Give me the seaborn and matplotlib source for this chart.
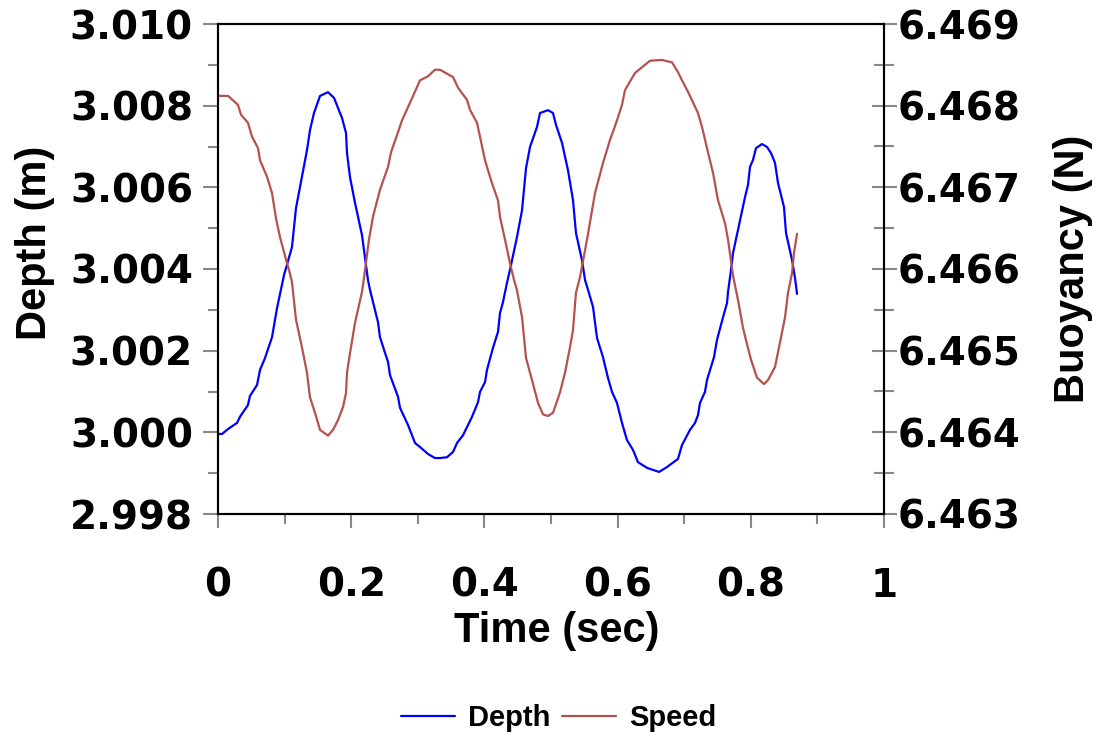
import matplotlib
matplotlib.use("Agg")
import matplotlib.pyplot as plt
import seaborn as sns
import pandas as pd
from matplotlib.ticker import MultipleLocator, FuncFormatter
from matplotlib.lines import Line2D

sns.set_style("white")
plt.rcParams['font.family'] = ['Liberation Sans', 'DejaVu Sans']
plt.rcParams['text.color'] = 'black'
plt.rcParams['axes.labelcolor'] = 'black'
plt.rcParams['xtick.labelcolor'] = 'black'
plt.rcParams['ytick.labelcolor'] = 'black'

# ---- data ----
depth_time = [0.0000, 0.0060, 0.0150, 0.0285, 0.0330, 0.0450, 0.0480, 0.0586, 0.0631, 0.0706,
              0.0811, 0.0886, 0.0991, 0.1111, 0.1171, 0.1336, 0.1381, 0.1441, 0.1532, 0.1652,
              0.1742, 0.1862, 0.1922, 0.1937, 0.1982, 0.2057, 0.2162, 0.2252, 0.2282, 0.2402,
              0.2432, 0.2553, 0.2583, 0.2703, 0.2733, 0.2853, 0.2958, 0.3033, 0.3153, 0.3258,
              0.3333, 0.3438, 0.3529, 0.3589, 0.3679, 0.3814, 0.3904, 0.3934, 0.4009, 0.4039,
              0.4129, 0.4204, 0.4234, 0.4279, 0.4339, 0.4384, 0.4489, 0.4565, 0.4625, 0.4685,
              0.4790, 0.4835, 0.4955, 0.5030, 0.5075, 0.5165, 0.5255, 0.5330, 0.5375, 0.5465,
              0.5511, 0.5556, 0.5631, 0.5691, 0.5781, 0.5856, 0.5916, 0.5991, 0.6066, 0.6141,
              0.6231, 0.6306, 0.6441, 0.6532, 0.6622, 0.6742, 0.6907, 0.6967, 0.7087, 0.7162,
              0.7207, 0.7237, 0.7312, 0.7342, 0.7447, 0.7492, 0.7583, 0.7643, 0.7658, 0.7703,
              0.7733, 0.7808, 0.7913, 0.7958, 0.7988, 0.8033, 0.8078, 0.8168, 0.8243, 0.8303,
              0.8363, 0.8408, 0.8498, 0.8529, 0.8619, 0.8664, 0.8694]
depth_m = [2.99996, 2.99996, 3.00008, 3.00023, 3.00038, 3.00067, 3.00089, 3.00116, 3.00153, 3.00182,
           3.00233, 3.00304, 3.00385, 3.00454, 3.00549, 3.00691, 3.00740, 3.00782, 3.00824, 3.00833,
           3.00819, 3.00770, 3.00733, 3.00684, 3.00625, 3.00562, 3.00483, 3.00373, 3.00349, 3.00270,
           3.00233, 3.00172, 3.00140, 3.00087, 3.00060, 3.00018, 2.99974, 2.99964, 2.99947, 2.99937,
           2.99937, 2.99939, 2.99952, 2.99974, 2.99993, 3.00038, 3.00074, 3.00099, 3.00123, 3.00153,
           3.00207, 3.00246, 3.00292, 3.00319, 3.00366, 3.00398, 3.00478, 3.00544, 3.00647, 3.00699,
           3.00748, 3.00782, 3.00789, 3.00782, 3.00753, 3.00709, 3.00642, 3.00569, 3.00488, 3.00422,
           3.00373, 3.00349, 3.00307, 3.00231, 3.00184, 3.00133, 3.00099, 3.00072, 3.00023, 2.99981,
           2.99957, 2.99927, 2.99913, 2.99908, 2.99903, 2.99915, 2.99935, 2.99969, 3.00006, 3.00023,
           3.00042, 3.00072, 3.00099, 3.00128, 3.00184, 3.00226, 3.00282, 3.00317, 3.00344, 3.00398,
           3.00439, 3.00496, 3.00576, 3.00606, 3.00650, 3.00667, 3.00696, 3.00706, 3.00699, 3.00684,
           3.00660, 3.00611, 3.00552, 3.00488, 3.00422, 3.00378, 3.00339]

speed_time = [0.0000, 0.0150, 0.0300, 0.0345, 0.0450, 0.0511, 0.0601, 0.0631, 0.0736, 0.0811,
              0.0871, 0.0931, 0.1036, 0.1066, 0.1111, 0.1171, 0.1261, 0.1336, 0.1381, 0.1456,
              0.1532, 0.1652, 0.1727, 0.1802, 0.1877, 0.1922, 0.1937, 0.1982, 0.2057, 0.2162,
              0.2192, 0.2267, 0.2327, 0.2432, 0.2553, 0.2598, 0.2688, 0.2763, 0.2913, 0.3033,
              0.3153, 0.3258, 0.3333, 0.3529, 0.3604, 0.3739, 0.3784, 0.3889, 0.3934, 0.4009,
              0.4114, 0.4204, 0.4234, 0.4309, 0.4384, 0.4444, 0.4489, 0.4565, 0.4625, 0.4715,
              0.4805, 0.4880, 0.4955, 0.5030, 0.5060, 0.5135, 0.5210, 0.5285, 0.5330, 0.5375,
              0.5435, 0.5541, 0.5661, 0.5781, 0.5886, 0.5991, 0.6066, 0.6111, 0.6261, 0.6366,
              0.6486, 0.6667, 0.6817, 0.6907, 0.6967, 0.7057, 0.7207, 0.7267, 0.7342, 0.7432,
              0.7508, 0.7613, 0.7658, 0.7733, 0.7808, 0.7883, 0.7958, 0.8003, 0.8093, 0.8198,
              0.8258, 0.8363, 0.8453, 0.8514, 0.8559, 0.8619, 0.8649, 0.8694]
buoyancy_n = [6.46812, 6.46812, 6.46801, 6.46789, 6.46779, 6.46762, 6.46748, 6.46733, 6.46713, 6.46693,
              6.46662, 6.46639, 6.46607, 6.46599, 6.46584, 6.46538, 6.46504, 6.46473, 6.46443, 6.46424,
              6.46403, 6.46396, 6.46403, 6.46415, 6.46431, 6.46448, 6.46473, 6.46497, 6.46534, 6.46572,
              6.46589, 6.46636, 6.46664, 6.46697, 6.46725, 6.46743, 6.46764, 6.46782, 6.46809, 6.46831,
              6.46836, 6.46844, 6.46844, 6.46835, 6.46822, 6.46807, 6.46795, 6.46779, 6.46762, 6.46733,
              6.46705, 6.46684, 6.46664, 6.46636, 6.46607, 6.46587, 6.46574, 6.46541, 6.46491, 6.46464,
              6.46436, 6.46422, 6.46420, 6.46424, 6.46431, 6.46449, 6.46473, 6.46504, 6.46525, 6.46571,
              6.46590, 6.46636, 6.46693, 6.46730, 6.46758, 6.46782, 6.46801, 6.46819, 6.46840, 6.46847,
              6.46855, 6.46856, 6.46853, 6.46841, 6.46831, 6.46817, 6.46791, 6.46774, 6.46748, 6.46718,
              6.46684, 6.46656, 6.46636, 6.46592, 6.46562, 6.46528, 6.46503, 6.46489, 6.46467, 6.46459,
              6.46464, 6.46480, 6.46516, 6.46541, 6.46571, 6.46595, 6.46620, 6.46643]

series_names = ["Depth", "Speed"]
series_colors = ["#0000FF", "#B5524F"]

df_depth = pd.DataFrame({"Time": depth_time, "Depth": depth_m})
df_speed = pd.DataFrame({"Time": speed_time, "Buoyancy": buoyancy_n})

# ---- figure ----
fig = plt.figure(figsize=(11.06, 7.36), dpi=100)
ax = fig.add_axes([218 / 1106, 1 - 514 / 736, 666 / 1106, 490 / 736])
ax2 = ax.twinx()

sns.lineplot(data=df_depth, x="Time", y="Depth", ax=ax, color=series_colors[0],
             linewidth=1.6, estimator=None, sort=False)
sns.lineplot(data=df_speed, x="Time", y="Buoyancy", ax=ax2, color=series_colors[1],
             linewidth=1.6, estimator=None, sort=False)

ax.set_xlim(0, 1)
ax.set_ylim(2.998, 3.010)
ax2.set_ylim(6.463, 6.469)

grey = '#888888'

ax.xaxis.set_major_locator(MultipleLocator(0.2))
ax.xaxis.set_minor_locator(MultipleLocator(0.1))
ax.xaxis.set_major_formatter(FuncFormatter(lambda v, p: f"{v:g}"))
ax.yaxis.set_major_locator(MultipleLocator(0.002))
ax.yaxis.set_minor_locator(MultipleLocator(0.001))
ax.yaxis.set_major_formatter(FuncFormatter(lambda v, p: f"{v:.3f}"))
ax2.yaxis.set_major_locator(MultipleLocator(0.001))
ax2.yaxis.set_minor_locator(MultipleLocator(0.0005))
ax2.yaxis.set_major_formatter(FuncFormatter(lambda v, p: f"{v:.3f}"))

ax.tick_params(axis='x', which='major', direction='out', length=10, width=1.5, color=grey,
               pad=28, bottom=True, top=False, labelcolor='black')
ax.tick_params(axis='x', which='minor', direction='out', length=7.5, width=1.5, color=grey,
               bottom=True, top=False)
ax.tick_params(axis='y', which='major', direction='out', length=11, width=1.5, color=grey,
               pad=7, left=True, right=False, labelcolor='black')
ax.tick_params(axis='y', which='minor', direction='out', length=7.5, width=1.5, color=grey,
               left=True, right=False)
ax2.tick_params(axis='y', which='major', direction='inout', length=18, width=1.5, color=grey,
                pad=1, right=True, left=False, labelcolor='black')
ax2.tick_params(axis='y', which='minor', direction='inout', length=14, width=1.5, color=grey,
                right=True, left=False)

for lab in ax.get_xticklabels() + ax.get_yticklabels() + ax2.get_yticklabels():
    lab.set_fontfamily('DejaVu Sans')
    lab.set_fontweight('bold')
    lab.set_fontsize(28)
    lab.set_color('black')

for a in (ax, ax2):
    for s in a.spines.values():
        s.set_color('black')
        s.set_linewidth(1.5)
        s.set_visible(True)

label_font = dict(family='Liberation Sans', weight='bold', size=30, color='black')
ax.set_xlabel("Time (sec)", **label_font)
ax.set_ylabel("Depth (m)", **label_font)
ax2.set_ylabel("Buoyancy (N)", **label_font)
ax.xaxis.set_label_coords(0.509, -0.198)
ax.yaxis.set_label_coords(-0.245, 0.553)
ax2.yaxis.set_label_coords(1.254, 0.5)

# legend
for a in (ax, ax2):
    if a.get_legend() is not None:
        a.get_legend().remove()
handles = [Line2D([0], [0], color=c, linewidth=1.6) for c in series_colors]
leg = fig.legend(handles, series_names, loc='center', bbox_to_anchor=(559 / 1106, 1 - 718 / 736),
                 ncol=2, frameon=False, prop=dict(family='Liberation Sans', weight='bold', size=21),
                 handlelength=1.85, handletextpad=0.45, columnspacing=0.4)
for t in leg.get_texts():
    t.set_color('black')

fig.savefig("out.png", dpi=100)
